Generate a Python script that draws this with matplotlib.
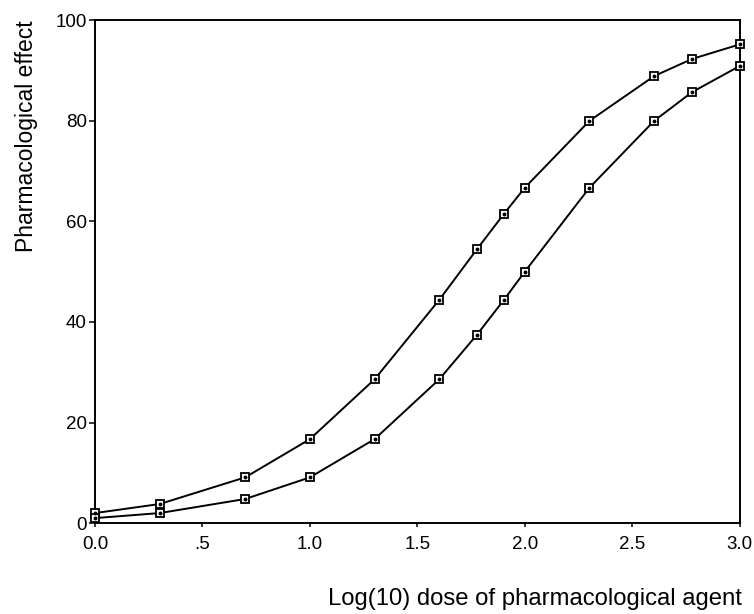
import matplotlib
matplotlib.use('Agg')
import matplotlib.pyplot as plt

# log10 dose and read-off effect values for the two curves
log_dose = [0.0, 0.301, 0.699, 1.0, 1.301, 1.602, 1.778, 1.903, 2.0, 2.301, 2.602, 2.778, 3.0]
effect_upper = [2.0, 3.8, 9.1, 16.7, 28.6, 44.4, 54.5, 61.5, 66.7, 80.0, 88.9, 92.3, 95.2]
effect_lower = [1.0, 2.0, 4.8, 9.1, 16.7, 28.6, 37.5, 44.4, 50.0, 66.7, 80.0, 85.7, 90.9]

xticks = [0.0, 0.5, 1.0, 1.5, 2.0, 2.5, 3.0]
xtick_labels = ['0.0', '.5', '1.0', '1.5', '2.0', '2.5', '3.0']
yticks = [0, 20, 40, 60, 80, 100]

plt.rcParams['font.family'] = ['Liberation Sans', 'DejaVu Sans']

fig = plt.figure(figsize=(7.54, 6.14), dpi=100)
ax = fig.add_axes([0.126, 0.148, 0.855, 0.819])

for ys in (effect_upper, effect_lower):
    ax.plot(log_dose, ys, color='black', linewidth=1.4,
            marker='s', markersize=6, markerfacecolor='white',
            markeredgecolor='black', markeredgewidth=1.3, clip_on=False, zorder=3)
    ax.plot(log_dose, ys, linestyle='none', marker='o', markersize=1.8,
            color='black', clip_on=False, zorder=4)

ax.set_xlim(0, 3)
ax.set_ylim(0, 100)
ax.set_xticks(xticks)
ax.set_xticklabels(xtick_labels)
ax.set_yticks(yticks)
ax.tick_params(axis='both', direction='out', labelsize=13.5, width=1.1)
ax.tick_params(axis='y', length=4, pad=2)
ax.tick_params(axis='x', length=3, pad=6)
for s in ax.spines.values():
    s.set_linewidth(1.4)

fig.text(0.035, 0.967, 'Pharmacological effect', rotation=90,
         ha='center', va='top', fontsize=16.5)
fig.text(0.984, 0.024, 'Log(10) dose of pharmacological agent',
         ha='right', va='center', fontsize=17.2)

fig.savefig('out.png', dpi=100)
